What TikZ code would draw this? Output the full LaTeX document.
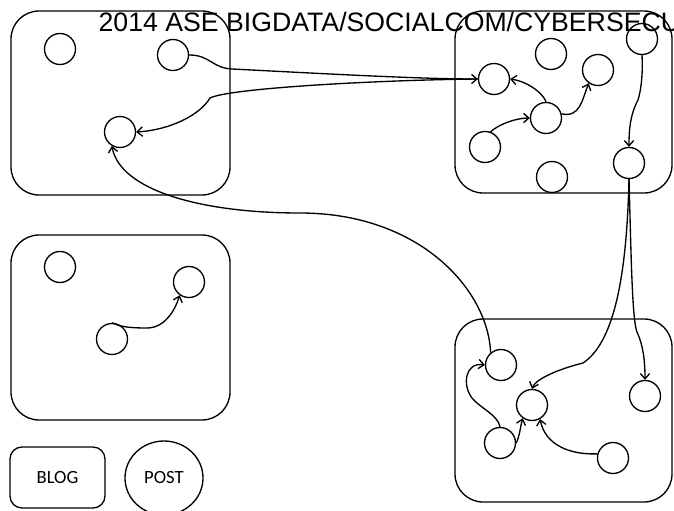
\documentclass[tikz,border=0pt]{standalone}
\usepackage{fontspec}
\setmainfont{Liberation Sans}
\newfontfamily\calib{Carlito}
\usetikzlibrary{arrows.meta,shapes.geometric}
\begin{document}
\begin{tikzpicture}[x=0.75pt,y=-0.75pt,line width=1pt,
  group/.style={draw,rounded corners=21pt},
  post/.style={draw,circle,minimum size=23.25pt,inner sep=0pt},
  arr/.style={-{Straight Barb[length=4pt,width=7pt]}},
  lbl/.style={font=\calib\fontsize{14pt}{16pt}\selectfont}]
\useasboundingbox (0,0) rectangle (674,510);
\clip (0,0) rectangle (674,510);
% group boxes
\draw[group] (11,11) rectangle (230,195);
\draw[group] (455,11) rectangle (672,193);
\draw[group] (11,235) rectangle (230,420);
\draw[group] (455,319) rectangle (672,502);
% title
\node[anchor=base west,inner sep=0pt,font=\fontsize{20pt}{24pt}\selectfont] (title) at (98,32) {2014 ASE BIGDATA/SOCIALCOM/CYBERSECU};
% box 1
\node[post] (c1) at (60,49) {};
\node[post] (c2) at (173,55) {};
\node[post] (c3) at (120,132) {};
% box 2
\node[post] (d1) at (551,54) {};
\node[post] (d2) at (642,39) {};
\node[post] (d3) at (494,79) {};
\node[post] (d4) at (598,70) {};
\node[post] (d5) at (546,118) {};
\node[post] (d6) at (485,147) {};
\node[post] (d7) at (629,163) {};
\node[post] (d8) at (552,177) {};
% box 3
\node[post] (e1) at (60,267) {};
\node[post] (e2) at (189,282) {};
\node[post] (e3) at (112,339) {};
% box 4
\node[post] (f1) at (501,365) {};
\node[post] (f2) at (532,405) {};
\node[post] (f3) at (645,396) {};
\node[post] (f4) at (500,443) {};
\node[post] (f5) at (613,458) {};
% legend
\node[draw,rounded corners=9pt,minimum width=71.25pt,minimum height=45.75pt,lbl] (blog) at (57.5,477.5) {BLOG};
\node[draw,ellipse,minimum width=58.5pt,minimum height=55.5pt,inner sep=0pt,lbl] (post) at (164,478) {POST};
% connectors
\draw[arr] (c2.east) .. controls (210,55) and (212,68) .. (232,69) .. controls (330,74) and (420,79) .. (d3.west);
\draw[arr] (d3.west) .. controls (380,80) and (230,88) .. (210,98) .. controls (200,115) and (170,130) .. (c3.east);
\draw[arr] (d5.north) .. controls (544,95) and (530,82) .. (d3.east);
\draw[arr] (d6.70) .. controls (498,125) and (515,118) .. (d5.west);
\draw[arr] (d5.15) .. controls (580,118) and (582,100) .. (d4.235);
\draw[arr] (d2.south) .. controls (643,75) and (641,90) .. (638,100) .. controls (630,115) and (629,130) .. (d7.north);
\draw[arr] (d7.south) .. controls (631,250) and (632,320) .. (637,332) .. controls (643,345) and (645,360) .. (f3.north);
\draw[arr] (d7.south) .. controls (627,260) and (618,340) .. (583,363) .. controls (555,370) and (535,380) .. (f2.north);
\draw[arr] (f1.130) .. controls (488,290) and (420,213) .. (300,213) .. controls (200,213) and (120,190) .. (c3.240);
\draw[arr] (f4.north) .. controls (498,415) and (480,408) .. (472,398) .. controls (462,385) and (465,362) .. (f1.west);
\draw[arr] (f4.east) .. controls (520,435) and (520,428) .. (f2.235);
\draw[arr] (f5.165) .. controls (570,455) and (545,445) .. (f2.300);
\draw[arr] (e3.north) .. controls (120,326) and (125,328) .. (147,328) .. controls (165,328) and (175,310) .. (e2.235);
\end{tikzpicture}
\end{document}
